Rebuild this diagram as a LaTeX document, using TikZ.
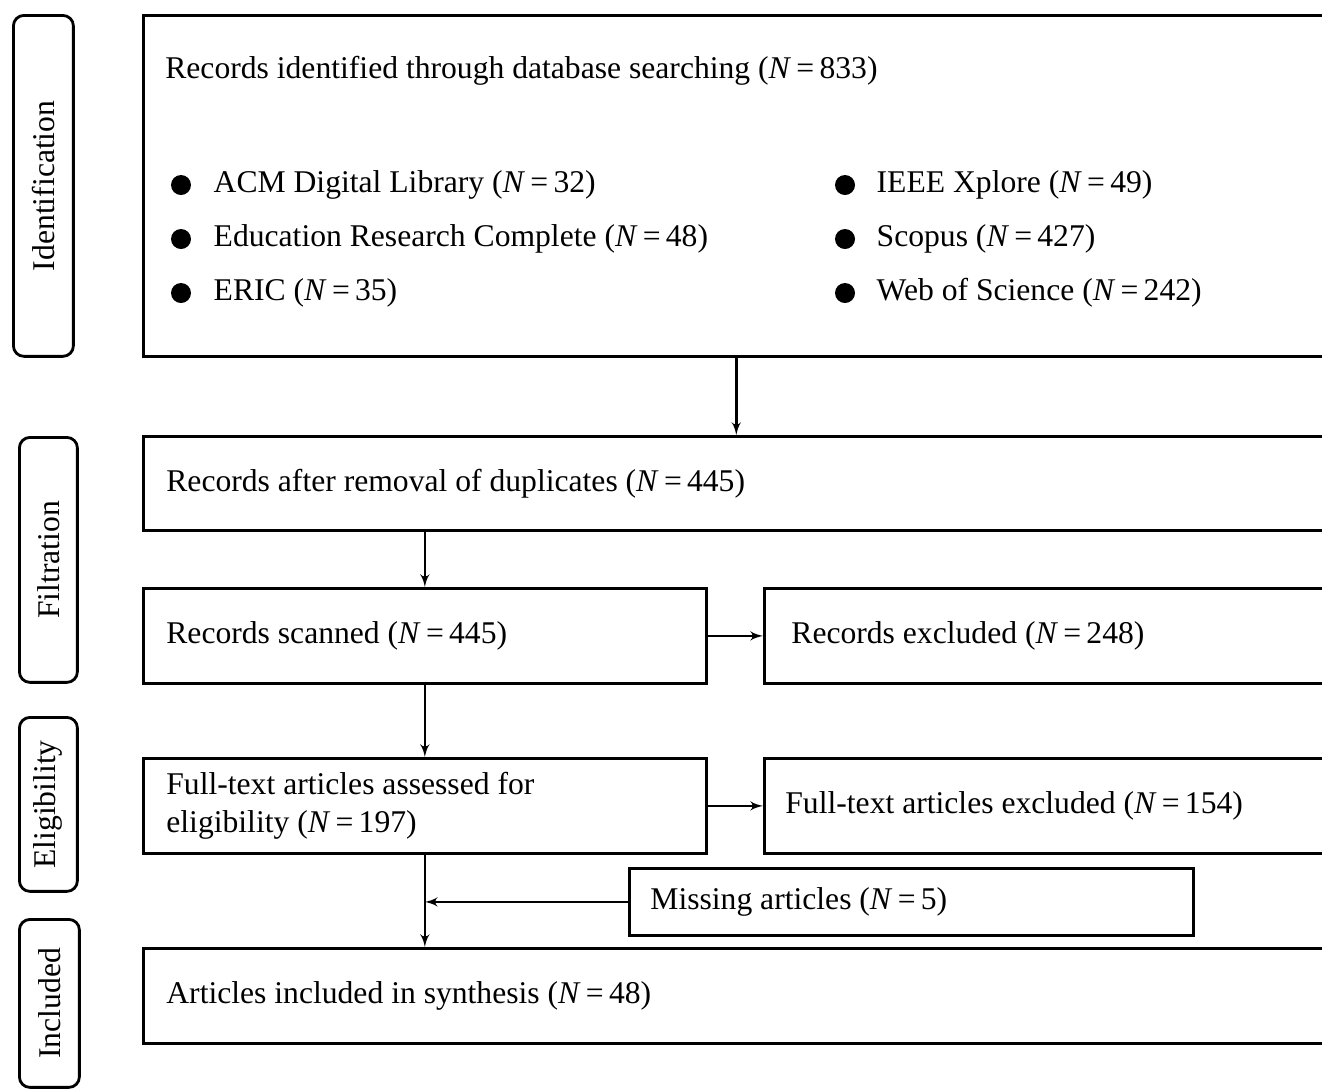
\documentclass[tikz,border=0pt]{standalone}
\usepackage{fontspec}
\setmainfont{Liberation Serif}
\usetikzlibrary{arrows, positioning}
\newcommand{\nval}[1]{(\textit{N}\,=\,#1)}

\begin{document}
\begin{tikzpicture}[
    x=0.02cm, y=-0.02cm,
    font=\fontsize{18}{21.5}\selectfont,
    box/.style={rectangle, draw, line width=1.6pt, anchor=north west, inner ysep=0pt, inner xsep=0.46cm, align=flush left,
        execute at begin node={\spaceskip=0pt\xspaceskip=0pt\relax}},
    phase/.style={rectangle, draw, rounded corners=6pt, line width=1.6pt, anchor=north west, inner sep=0pt},
    dot/.style={circle, fill, inner sep=0pt, minimum size=0.4cm},
    item/.style={anchor=west, inner sep=0pt},
    line/.style={draw, line width=1.5pt, -latex'}
]
    \useasboundingbox (0,0) rectangle (1322,1090);
    \clip (0,0) rectangle (1322,1090);

    % Phases
    \node [phase, minimum width=1.2cm, minimum height=6.82cm] (pident) at (12,14) {};
    \node [rotate=90] at (pident.center) {Identification};
    \node [phase, minimum width=1.16cm, minimum height=4.9cm] (pfilt) at (18,436) {};
    \node [rotate=90] at (pfilt.center) {Filtration};
    \node [phase, minimum width=1.16cm, minimum height=3.48cm] (pelig) at (18,716) {};
    \node [rotate=90] at (pelig.center) {Eligibility};
    \node [phase, minimum width=1.2cm, minimum height=3.36cm] (pincl) at (18,918) {};
    \node [rotate=90] at (pincl.center) {Included};

    % Identification box
    \node [box, minimum width=23.72cm, minimum height=6.82cm] (ident) at (142,14) {};
    \node [item] (title) at (165,71) {Records identified through database searching \nval{833}};
    \node [dot] (d1) at (181,185) {};
    \node [item, right=0.44cm of d1] {ACM Digital Library \nval{32}};
    \node [dot] (d2) at (181,239) {};
    \node [item, right=0.44cm of d2] {Education Research Complete \nval{48}};
    \node [dot] (d3) at (181,293) {};
    \node [item, right=0.44cm of d3] {ERIC \nval{35}};
    \node [dot] (d4) at (845,185) {};
    \node [item, right=0.42cm of d4] {IEEE Xplore \nval{49}};
    \node [dot] (d5) at (845,239) {};
    \node [item, right=0.42cm of d5] {Scopus \nval{427}};
    \node [dot] (d6) at (845,293) {};
    \node [item, right=0.42cm of d6] {Web of Science \nval{242}};

    % Flow boxes
    \node [box, text width=23.08cm, minimum height=1.88cm] (dup) at (142,435) {Records after removal of duplicates \nval{445}};
    \node [box, text width=10.34cm, minimum height=1.9cm] (scan) at (142,587) {Records scanned \nval{445}};
    \node [box, text width=11cm, inner xsep=0.54cm, minimum height=1.9cm] (excl) at (763,587) {Records excluded \nval{248}};
    \node [box, text width=10.34cm, minimum height=1.9cm] (full) at (142,757) {Full-text articles assessed for\\eligibility \nval{197}};
    \node [box, text width=11cm, inner xsep=0.42cm, minimum height=1.9cm] (fexcl) at (763,757) {Full-text articles excluded \nval{154}};
    \node [box, text width=10.44cm, inner xsep=0.42cm, minimum height=1.34cm] (miss) at (628,867) {Missing articles \nval{5}};
    \node [box, text width=23.08cm, minimum height=1.9cm] (incl) at (142,947) {Articles included in synthesis \nval{48}};

    % Edges
    \path [line] (ident.south) -- (ident.south |- dup.north);
    \path [line] (scan.north |- dup.south) -- (scan.north);
    \path [line] (scan.east) -- (excl.west);
    \path [line] (scan.south) -- (full.north);
    \path [line] (full.east) -- (fexcl.west);
    \path [line] (full.south) -- (full.south |- incl.north);
    \path [line] (miss.west) -- (miss.west -| full.south);
\end{tikzpicture}
\end{document}
